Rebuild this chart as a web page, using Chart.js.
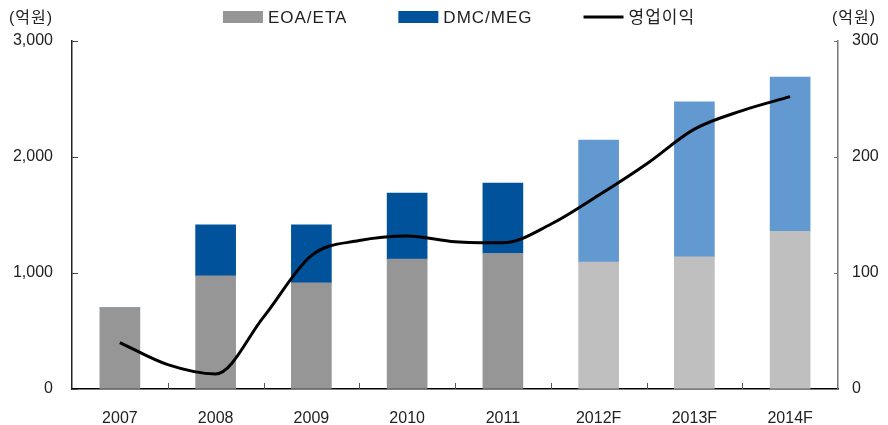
<!DOCTYPE html>
<html lang="ko">
<head>
<meta charset="UTF-8">
<title>EOA/ETA, DMC/MEG 매출 및 영업이익</title>
<script src="https://cdn.jsdelivr.net/npm/chart.js@4.4.1/dist/chart.umd.min.js"></script>
<style>
    html, body { margin: 0; padding: 0; background: #fff; }
    .wrap { position: relative; width: 888px; height: 425px; }
</style>
</head>
<body>
<div class="wrap"><canvas id="chart" width="888" height="425"></canvas></div>
<script>
    // 데이터 (단위: 억원)
    var years = ['2007', '2008', '2009', '2010', '2011', '2012F', '2013F', '2014F'];
    var eoaEta = [700, 975, 915, 1120, 1170, 1095, 1140, 1360];
    var dmcMeg = [0, 440, 500, 570, 605, 1050, 1335, 1330];
    // 영업이익: 반기 단위로 읽은 값 (x는 연도 인덱스)
    var profitIdx = [0, 0.5, 1, 1.5, 2, 2.5, 3, 3.5, 4, 4.5, 5, 5.5, 6, 6.5, 7];
    var profit = [40, 21, 13, 62, 115, 128, 132, 127, 126, 142, 167, 194, 224, 240, 252];
    var leftTicks = [0, 1000, 2000, 3000];
    var rightTicks = [0, 100, 200, 300];
    var forecastFrom = 5;

    var FONT = "'Liberation Sans', 'Noto Sans CJK KR', sans-serif";
    var TXT = '#222';

    function shade(actual, forecast) {
        return years.map(function (y, i) { return i < forecastFrom ? actual : forecast; });
    }

    // 범례, 축 안쪽 눈금, 단위 표시
    var decor = {
        id: 'decor',
        afterDatasetsDraw: function (chart) {
            var ctx = chart.ctx, a = chart.chartArea;
            var y = chart.scales.y, y1 = chart.scales.y1, x = chart.scales.x;
            ctx.save();
            ctx.lineWidth = 1;
            ctx.strokeStyle = '#444';
            ctx.beginPath();
            leftTicks.forEach(function (v) {
                var p = Math.round(y.getPixelForValue(v)) + 0.5;
                ctx.moveTo(a.left, p); ctx.lineTo(a.left + 6, p);
            });
            ctx.stroke();
            ctx.strokeStyle = '#777';
            ctx.beginPath();
            rightTicks.forEach(function (v) {
                var p = Math.round(y1.getPixelForValue(v)) + 0.5;
                ctx.moveTo(a.right, p); ctx.lineTo(a.right - 4, p);
            });
            ctx.stroke();
            ctx.strokeStyle = '#555';
            ctx.beginPath();
            for (var i = 1; i < years.length; i++) {
                var px = Math.round((x.getPixelForValue(i - 1) + x.getPixelForValue(i)) / 2) + 0.5;
                ctx.moveTo(px, a.bottom); ctx.lineTo(px, a.bottom - 6);
            }
            ctx.stroke();
            ctx.restore();
        },
        afterDraw: function (chart) {
            var ctx = chart.ctx;
            ctx.save();
            ctx.font = '16px ' + FONT;
            ctx.letterSpacing = '1px';
            ctx.fillStyle = TXT;
            ctx.textBaseline = 'middle';
            ctx.textAlign = 'left';
            ctx.fillText('(억원)', 9, 19);
            ctx.fillText('(억원)', 832, 19);

            // 범례
            var ds = chart.data.datasets;
            var items = [
                { text: ds[0].label, color: '#969696', line: false },
                { text: ds[1].label, color: '#00529b', line: false },
                { text: ds[2].label, color: '#000', line: true }
            ];
            ctx.font = '17px ' + FONT;
            var sw = 40, gap = 5, between = 51, total = 0;
            items.forEach(function (it, i) {
                it.w = ctx.measureText(it.text).width;
                total += sw + gap + it.w + (i ? between : 0);
            });
            var cx = 459 - total / 2, cy = 17;
            items.forEach(function (it) {
                if (it.line) {
                    ctx.strokeStyle = it.color;
                    ctx.lineWidth = 3;
                    ctx.beginPath();
                    ctx.moveTo(cx, cy); ctx.lineTo(cx + sw, cy);
                    ctx.stroke();
                } else {
                    ctx.fillStyle = it.color;
                    ctx.fillRect(cx, cy - 6, sw, 12);
                }
                ctx.fillStyle = TXT;
                ctx.fillText(it.text, cx + sw + gap, cy + 1);
                cx += sw + gap + it.w + between;
            });
            ctx.restore();
        }
    };

    Chart.defaults.font.family = FONT;
    Chart.defaults.font.size = 16;
    Chart.defaults.color = TXT;

    new Chart(document.getElementById('chart').getContext('2d'), {
        type: 'bar',
        data: {
            labels: years,
            datasets: [{
                label: 'EOA/ETA',
                data: eoaEta,
                backgroundColor: shade('#969696', '#bfbfbf'),
                xAxisID: 'x', yAxisID: 'y',
                stack: 'sales',
                grouped: false,
                barThickness: 40,
                order: 2
            }, {
                label: 'DMC/MEG',
                data: dmcMeg,
                backgroundColor: shade('#00529b', '#6399d1'),
                xAxisID: 'x', yAxisID: 'y',
                stack: 'sales',
                grouped: false,
                barThickness: 40,
                order: 2
            }, {
                type: 'line',
                label: '영업이익',
                data: profitIdx.map(function (p, i) { return { x: p, y: profit[i] }; }),
                borderColor: '#000',
                borderWidth: 3,
                pointRadius: 0,
                cubicInterpolationMode: 'monotone',
                xAxisID: 'xl', yAxisID: 'y1',
                order: 1
            }]
        },
        options: {
            responsive: false,
            animation: false,
            layout: { padding: { top: 41 } },
            plugins: {
                tooltip: { enabled: false },
                legend: { display: false }
            },
            scales: {
                x: {
                    stacked: true,
                    offset: true,
                    grid: { display: true, drawOnChartArea: false, drawTicks: false },
                    border: { color: '#000', width: 1.5 },
                    ticks: { padding: 20, color: TXT },
                    afterFit: function (s) { s.height = 36; }
                },
                xl: {
                    type: 'linear',
                    display: false,
                    offset: false,
                    bounds: 'data',
                    min: -0.5,
                    max: 7.5
                },
                y: {
                    stacked: true,
                    min: 0, max: 3000,
                    afterBuildTicks: function (s) { s.ticks = leftTicks.map(function (v) { return { value: v }; }); },
                    grid: { display: true, drawOnChartArea: false, drawTicks: false },
                    border: { color: '#222', width: 1.5 },
                    ticks: { padding: 19, color: TXT },
                    afterFit: function (s) { s.width = 72; }
                },
                y1: {
                    position: 'right',
                    min: 0, max: 300,
                    afterBuildTicks: function (s) { s.ticks = rightTicks.map(function (v) { return { value: v }; }); },
                    grid: { display: true, drawOnChartArea: false, drawTicks: false },
                    border: { color: '#777', width: 1.5 },
                    ticks: { padding: 14, color: TXT },
                    afterFit: function (s) { s.width = 50; }
                }
            }
        },
        plugins: [decor]
    });
</script>
</body>
</html>
